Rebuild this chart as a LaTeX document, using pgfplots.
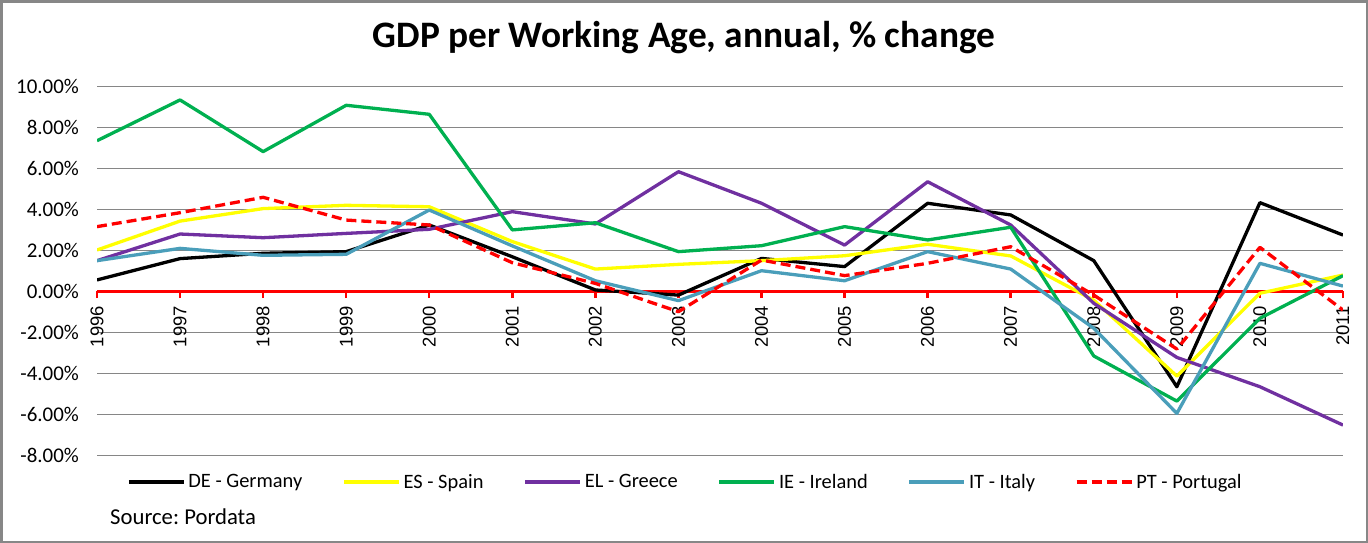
\documentclass[border=0pt]{standalone}
\usepackage{pgfplots}
\usepackage{pgfplotstable}
\pgfplotsset{compat=1.18}
\usepackage{fontspec}
\setmainfont{Carlito}
\newfontfamily\yearfont{Liberation Sans}
\definecolor{esyel}{HTML}{FFFF00}
\definecolor{elpur}{HTML}{7030A0}
\definecolor{iegrn}{HTML}{00B050}
\definecolor{itteal}{HTML}{4A9EBA}
\definecolor{gridgray}{HTML}{868686}
\definecolor{framegray}{HTML}{878787}

% annual % change of GDP per working-age person
\pgfplotstableread{
year  DE     ES     EL     IE     IT     PT
1996  0.54   2.00   1.48   7.33   1.48   3.14
1997  1.58   3.41   2.78   9.32   2.08   3.82
1998  1.84   4.02   2.60   6.80   1.74   4.57
1999  1.92   4.18   2.81   9.06   1.79   3.46
2000  3.22   4.11   3.01   8.62   3.95   3.22
2001  1.67   2.41   3.87   2.98   2.20   1.38
2002  0.05   1.07   3.27   3.33   0.50   0.37
2003  -0.20  1.30   5.82   1.92   -0.47  -1.01
2004  1.59   1.48   4.28   2.21   0.99   1.51
2005  1.19   1.72   2.24   3.14   0.50   0.75
2006  4.28   2.28   5.33   2.49   1.92   1.35
2007  3.71   1.71   3.22   3.11   1.07   2.16
2008  1.48   -0.45  -0.60  -3.17  -1.82  -0.20
2009  -4.67  -4.15  -3.24  -5.37  -5.97  -2.83
2010  4.31   -0.11  -4.67  -1.33  1.35   2.13
2011  2.73   0.78   -6.54  0.75   0.24   -0.93
}\gdp

\begin{document}
\begin{tikzpicture}
\useasboundingbox (0,0) rectangle (1368bp,-543bp);
\draw[framegray, line width=2.5bp] (1.25bp,-1.25bp) rectangle (1366.75bp,-541.75bp);
\begin{axis}[
  at={(97bp,-455bp)}, anchor=south west,
  scale only axis, width=1246bp, height=369bp,
  xmin=1996, xmax=2011, ymin=-8, ymax=10,
  axis x line=middle, axis y line=left,
  axis line style={-},
  x axis line style={red, line width=3bp},
  y axis line style={draw=none},
  hide obscured x ticks=false, hide obscured y ticks=false,
  xtick={1996,...,2011},
  xticklabels={1996,1997,1998,1999,2000,2001,2002,2003,2004,2005,2006,2007,2008,2009,2010,2011},
  xticklabel style={rotate=90, anchor=east, inner sep=0pt, text=black, xshift=-8bp,
    font=\yearfont\fontsize{18.5}{20}\selectfont},
  major tick length=7bp, tick align=outside,
  xtick style={red, line width=2.5bp},
  ytick={-8,-6,...,10},
  yticklabels={-8.00\%,-6.00\%,-4.00\%,-2.00\%,0.00\%,2.00\%,4.00\%,6.00\%,8.00\%,10.00\%},
  ytick style={draw=none},
  yticklabel style={font=\fontsize{21}{24}\selectfont, inner sep=0pt, text=black, xshift=-11bp},
  ymajorgrids, grid style={gridgray, line width=1bp},
  legend columns=6,
  legend style={at={(axis description cs:0.024,-0.073)}, anchor=west,
    draw=none, fill=none, inner sep=0pt,
    font=\fontsize{20.5}{24}\selectfont, nodes={inner sep=0pt},
    /tikz/every odd column/.append style={column sep=3bp},
    /tikz/every even column/.append style={column sep=40bp}},
  legend image code/.code={\draw[#1] (0bp,0bp) -- (55bp,0bp);},
  every axis plot/.append style={line width=3.3bp, line join=round},
]
\addplot[black] table[x=year, y=DE] {\gdp};
\addplot[esyel] table[x=year, y=ES] {\gdp};
\addplot[elpur] table[x=year, y=EL] {\gdp};
\addplot[iegrn] table[x=year, y=IE] {\gdp};
\addplot[itteal] table[x=year, y=IT] {\gdp};
\addplot[red, dash pattern=on 10bp off 5bp] table[x=year, y=PT] {\gdp};
\legend{DE - Germany, ES - Spain, EL - Greece, IE - Ireland, IT - Italy, PT - Portugal}
\end{axis}
\node[font=\bfseries\fontsize{37.5}{42}\selectfont, anchor=base] at (684bp,-47bp)
  {GDP per Working Age, annual, \% change};
\node[font=\fontsize{22.8}{26}\selectfont, anchor=west, inner sep=0pt] at (110bp,-517bp)
  {Source:\ Pordata};
\end{tikzpicture}
\end{document}
